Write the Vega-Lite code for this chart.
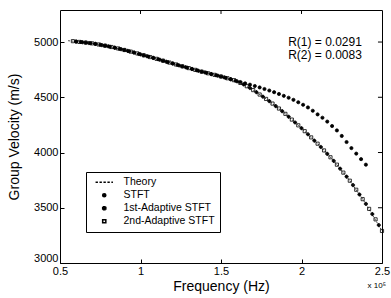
{
  "$schema": "https://vega.github.io/schema/vega-lite/v6.json",
  "width": 322,
  "height": 253,
  "autosize": "none",
  "padding": {"left": 60, "top": 10, "right": 9, "bottom": 35},
  "background": "white",
  "config": {
    "font": "Liberation Sans",
    "view": {"stroke": "black", "strokeWidth": 1},
    "axis": {
      "grid": false,
      "domain": false,
      "tickColor": "black",
      "tickSize": -4,
      "labelColor": "black",
      "labelFont": "Liberation Sans",
      "labelFontSize": 11,
      "labelOverlap": false,
      "titleColor": "black",
      "titleFont": "Liberation Sans",
      "titleFontSize": 14,
      "titleFontWeight": "normal"
    }
  },
  "datasets": {
    "theory": [
      {"f": 0.55, "v": 5012}, {"f": 0.6, "v": 5005}, {"f": 0.7, "v": 4988}, {"f": 0.8, "v": 4961},
      {"f": 0.9, "v": 4928}, {"f": 1.0, "v": 4888}, {"f": 1.1, "v": 4848}, {"f": 1.2, "v": 4806},
      {"f": 1.3, "v": 4764}, {"f": 1.4, "v": 4725}, {"f": 1.5, "v": 4688}, {"f": 1.6, "v": 4645},
      {"f": 1.7, "v": 4565}, {"f": 1.8, "v": 4465}, {"f": 1.9, "v": 4350}, {"f": 2.0, "v": 4220},
      {"f": 2.1, "v": 4080}, {"f": 2.2, "v": 3925}, {"f": 2.3, "v": 3745}, {"f": 2.4, "v": 3535},
      {"f": 2.5, "v": 3290}
    ],
    "est": [
      {"series": "STFT", "f": 0.60, "v": 5005}, {"series": "STFT", "f": 0.63, "v": 5000},
      {"series": "STFT", "f": 0.66, "v": 4995}, {"series": "STFT", "f": 0.69, "v": 4990},
      {"series": "STFT", "f": 0.72, "v": 4983}, {"series": "STFT", "f": 0.75, "v": 4975},
      {"series": "STFT", "f": 0.78, "v": 4967}, {"series": "STFT", "f": 0.81, "v": 4958},
      {"series": "STFT", "f": 0.84, "v": 4948}, {"series": "STFT", "f": 0.87, "v": 4938},
      {"series": "STFT", "f": 0.90, "v": 4928}, {"series": "STFT", "f": 0.93, "v": 4917},
      {"series": "STFT", "f": 0.96, "v": 4905}, {"series": "STFT", "f": 0.99, "v": 4892},
      {"series": "STFT", "f": 1.02, "v": 4880}, {"series": "STFT", "f": 1.05, "v": 4868},
      {"series": "STFT", "f": 1.08, "v": 4856}, {"series": "STFT", "f": 1.11, "v": 4844},
      {"series": "STFT", "f": 1.14, "v": 4831}, {"series": "STFT", "f": 1.17, "v": 4818},
      {"series": "STFT", "f": 1.20, "v": 4806}, {"series": "STFT", "f": 1.23, "v": 4793},
      {"series": "STFT", "f": 1.26, "v": 4780}, {"series": "STFT", "f": 1.29, "v": 4768},
      {"series": "STFT", "f": 1.32, "v": 4756}, {"series": "STFT", "f": 1.35, "v": 4744},
      {"series": "STFT", "f": 1.38, "v": 4732}, {"series": "STFT", "f": 1.41, "v": 4721},
      {"series": "STFT", "f": 1.44, "v": 4710}, {"series": "STFT", "f": 1.47, "v": 4699},
      {"series": "STFT", "f": 1.50, "v": 4688}, {"series": "STFT", "f": 1.53, "v": 4676},
      {"series": "STFT", "f": 1.56, "v": 4663}, {"series": "STFT", "f": 1.59, "v": 4650},
      {"series": "STFT", "f": 1.62, "v": 4638}, {"series": "STFT", "f": 1.65, "v": 4626},
      {"series": "STFT", "f": 1.68, "v": 4614}, {"series": "STFT", "f": 1.71, "v": 4602},
      {"series": "STFT", "f": 1.74, "v": 4589}, {"series": "STFT", "f": 1.77, "v": 4575},
      {"series": "STFT", "f": 1.80, "v": 4561}, {"series": "STFT", "f": 1.83, "v": 4546},
      {"series": "STFT", "f": 1.86, "v": 4530}, {"series": "STFT", "f": 1.89, "v": 4513},
      {"series": "STFT", "f": 1.92, "v": 4496}, {"series": "STFT", "f": 1.95, "v": 4477},
      {"series": "STFT", "f": 1.98, "v": 4455}, {"series": "STFT", "f": 2.01, "v": 4432},
      {"series": "STFT", "f": 2.04, "v": 4408}, {"series": "STFT", "f": 2.07, "v": 4378},
      {"series": "STFT", "f": 2.10, "v": 4345}, {"series": "STFT", "f": 2.13, "v": 4315},
      {"series": "STFT", "f": 2.16, "v": 4280}, {"series": "STFT", "f": 2.19, "v": 4240},
      {"series": "STFT", "f": 2.22, "v": 4200}, {"series": "STFT", "f": 2.25, "v": 4150},
      {"series": "STFT", "f": 2.28, "v": 4095}, {"series": "STFT", "f": 2.31, "v": 4040},
      {"series": "STFT", "f": 2.34, "v": 3990}, {"series": "STFT", "f": 2.37, "v": 3940},
      {"series": "STFT", "f": 2.40, "v": 3890},

      {"series": "1st-Adaptive STFT", "f": 0.60, "v": 5004}, {"series": "1st-Adaptive STFT", "f": 0.64, "v": 4998},
      {"series": "1st-Adaptive STFT", "f": 0.68, "v": 4991}, {"series": "1st-Adaptive STFT", "f": 0.72, "v": 4983},
      {"series": "1st-Adaptive STFT", "f": 0.76, "v": 4972}, {"series": "1st-Adaptive STFT", "f": 0.80, "v": 4961},
      {"series": "1st-Adaptive STFT", "f": 0.84, "v": 4949}, {"series": "1st-Adaptive STFT", "f": 0.88, "v": 4935},
      {"series": "1st-Adaptive STFT", "f": 0.92, "v": 4920}, {"series": "1st-Adaptive STFT", "f": 0.96, "v": 4905},
      {"series": "1st-Adaptive STFT", "f": 1.00, "v": 4888}, {"series": "1st-Adaptive STFT", "f": 1.04, "v": 4872},
      {"series": "1st-Adaptive STFT", "f": 1.08, "v": 4856}, {"series": "1st-Adaptive STFT", "f": 1.12, "v": 4840},
      {"series": "1st-Adaptive STFT", "f": 1.16, "v": 4822}, {"series": "1st-Adaptive STFT", "f": 1.20, "v": 4806},
      {"series": "1st-Adaptive STFT", "f": 1.24, "v": 4788}, {"series": "1st-Adaptive STFT", "f": 1.28, "v": 4772},
      {"series": "1st-Adaptive STFT", "f": 1.32, "v": 4756}, {"series": "1st-Adaptive STFT", "f": 1.36, "v": 4740},
      {"series": "1st-Adaptive STFT", "f": 1.40, "v": 4725}, {"series": "1st-Adaptive STFT", "f": 1.44, "v": 4710},
      {"series": "1st-Adaptive STFT", "f": 1.48, "v": 4696}, {"series": "1st-Adaptive STFT", "f": 1.52, "v": 4680},
      {"series": "1st-Adaptive STFT", "f": 1.56, "v": 4664}, {"series": "1st-Adaptive STFT", "f": 1.60, "v": 4644},
      {"series": "1st-Adaptive STFT", "f": 1.64, "v": 4616}, {"series": "1st-Adaptive STFT", "f": 1.68, "v": 4584},
      {"series": "1st-Adaptive STFT", "f": 1.72, "v": 4546}, {"series": "1st-Adaptive STFT", "f": 1.76, "v": 4506},
      {"series": "1st-Adaptive STFT", "f": 1.80, "v": 4465}, {"series": "1st-Adaptive STFT", "f": 1.84, "v": 4420},
      {"series": "1st-Adaptive STFT", "f": 1.88, "v": 4374}, {"series": "1st-Adaptive STFT", "f": 1.92, "v": 4324},
      {"series": "1st-Adaptive STFT", "f": 1.96, "v": 4272}, {"series": "1st-Adaptive STFT", "f": 2.00, "v": 4220},
      {"series": "1st-Adaptive STFT", "f": 2.04, "v": 4165}, {"series": "1st-Adaptive STFT", "f": 2.08, "v": 4108},
      {"series": "1st-Adaptive STFT", "f": 2.12, "v": 4050}, {"series": "1st-Adaptive STFT", "f": 2.16, "v": 3988},
      {"series": "1st-Adaptive STFT", "f": 2.20, "v": 3924}, {"series": "1st-Adaptive STFT", "f": 2.24, "v": 3854},
      {"series": "1st-Adaptive STFT", "f": 2.28, "v": 3782}, {"series": "1st-Adaptive STFT", "f": 2.32, "v": 3705},
      {"series": "1st-Adaptive STFT", "f": 2.36, "v": 3620}, {"series": "1st-Adaptive STFT", "f": 2.40, "v": 3535},
      {"series": "1st-Adaptive STFT", "f": 2.44, "v": 3443}, {"series": "1st-Adaptive STFT", "f": 2.48, "v": 3343},

      {"series": "2nd-Adaptive STFT", "f": 0.58, "v": 5008}, {"series": "2nd-Adaptive STFT", "f": 0.62, "v": 5001},
      {"series": "2nd-Adaptive STFT", "f": 0.66, "v": 4995}, {"series": "2nd-Adaptive STFT", "f": 0.70, "v": 4988},
      {"series": "2nd-Adaptive STFT", "f": 0.74, "v": 4978}, {"series": "2nd-Adaptive STFT", "f": 0.78, "v": 4967},
      {"series": "2nd-Adaptive STFT", "f": 0.82, "v": 4955}, {"series": "2nd-Adaptive STFT", "f": 0.86, "v": 4942},
      {"series": "2nd-Adaptive STFT", "f": 0.90, "v": 4928}, {"series": "2nd-Adaptive STFT", "f": 0.94, "v": 4913},
      {"series": "2nd-Adaptive STFT", "f": 0.98, "v": 4897}, {"series": "2nd-Adaptive STFT", "f": 1.02, "v": 4880},
      {"series": "2nd-Adaptive STFT", "f": 1.06, "v": 4864}, {"series": "2nd-Adaptive STFT", "f": 1.10, "v": 4848},
      {"series": "2nd-Adaptive STFT", "f": 1.14, "v": 4831}, {"series": "2nd-Adaptive STFT", "f": 1.18, "v": 4814},
      {"series": "2nd-Adaptive STFT", "f": 1.22, "v": 4797}, {"series": "2nd-Adaptive STFT", "f": 1.26, "v": 4780},
      {"series": "2nd-Adaptive STFT", "f": 1.30, "v": 4764}, {"series": "2nd-Adaptive STFT", "f": 1.34, "v": 4748},
      {"series": "2nd-Adaptive STFT", "f": 1.38, "v": 4732}, {"series": "2nd-Adaptive STFT", "f": 1.42, "v": 4717},
      {"series": "2nd-Adaptive STFT", "f": 1.46, "v": 4703}, {"series": "2nd-Adaptive STFT", "f": 1.50, "v": 4688},
      {"series": "2nd-Adaptive STFT", "f": 1.54, "v": 4672}, {"series": "2nd-Adaptive STFT", "f": 1.58, "v": 4655},
      {"series": "2nd-Adaptive STFT", "f": 1.62, "v": 4630}, {"series": "2nd-Adaptive STFT", "f": 1.66, "v": 4600},
      {"series": "2nd-Adaptive STFT", "f": 1.70, "v": 4565}, {"series": "2nd-Adaptive STFT", "f": 1.74, "v": 4525},
      {"series": "2nd-Adaptive STFT", "f": 1.78, "v": 4485}, {"series": "2nd-Adaptive STFT", "f": 1.82, "v": 4443},
      {"series": "2nd-Adaptive STFT", "f": 1.86, "v": 4398}, {"series": "2nd-Adaptive STFT", "f": 1.90, "v": 4350},
      {"series": "2nd-Adaptive STFT", "f": 1.94, "v": 4298}, {"series": "2nd-Adaptive STFT", "f": 1.98, "v": 4246},
      {"series": "2nd-Adaptive STFT", "f": 2.02, "v": 4193}, {"series": "2nd-Adaptive STFT", "f": 2.06, "v": 4137},
      {"series": "2nd-Adaptive STFT", "f": 2.10, "v": 4080}, {"series": "2nd-Adaptive STFT", "f": 2.14, "v": 4019},
      {"series": "2nd-Adaptive STFT", "f": 2.18, "v": 3957}, {"series": "2nd-Adaptive STFT", "f": 2.22, "v": 3890},
      {"series": "2nd-Adaptive STFT", "f": 2.26, "v": 3818}, {"series": "2nd-Adaptive STFT", "f": 2.30, "v": 3745},
      {"series": "2nd-Adaptive STFT", "f": 2.34, "v": 3663}, {"series": "2nd-Adaptive STFT", "f": 2.38, "v": 3578},
      {"series": "2nd-Adaptive STFT", "f": 2.42, "v": 3490}, {"series": "2nd-Adaptive STFT", "f": 2.46, "v": 3395},
      {"series": "2nd-Adaptive STFT", "f": 2.50, "v": 3290}
    ],
    "notes": [
      {"label": "R(1) = 0.0291", "f": 2.375, "v": 4998},
      {"label": "R(2) = 0.0083", "f": 2.375, "v": 4880}
    ],
    "exp": [
      {"label": "x 10⁵", "f": 2.41, "v": 2795}
    ],
    "xticks": [{"f": 1, "v": 5290, "v2": 5254}, {"f": 1.5, "v": 5290, "v2": 5254}, {"f": 2, "v": 5290, "v2": 5254}],
    "yticks": [{"f": 2.5, "f2": 2.475, "v": 3500}, {"f": 2.5, "f2": 2.475, "v": 4000}, {"f": 2.5, "f2": 2.475, "v": 4500}, {"f": 2.5, "f2": 2.475, "v": 5000}]
  },
  "encoding": {
    "x": {"field": "f", "type": "quantitative", "scale": {"domain": [0.5, 2.5], "nice": false},
      "axis": {"orient": "bottom", "values": [0.5, 1, 1.5, 2, 2.5], "labelExpr": "datum.value", "labelPadding": 6, "title": "Frequency (Hz)", "titlePadding": 3, "labelFlush": false}},
    "y": {"field": "v", "type": "quantitative", "scale": {"domain": [3000, 5290], "nice": false, "zero": false},
      "axis": {"orient": "left", "values": [3000, 3500, 4000, 4500, 5000], "format": "d", "labelPadding": 6, "labelFlush": true, "title": "Group Velocity (m/s)", "titlePadding": 12}}
  },
  "layer": [
    {
      "data": {"name": "theory"},
      "mark": {"type": "line", "stroke": "black", "strokeWidth": 0.7, "strokeDash": [2, 1.5]}
    },
    {
      "data": {"name": "est"},
      "mark": {"type": "point", "stroke": "black", "strokeWidth": 0.8, "opacity": 1, "size": 10},
      "encoding": {
        "shape": {"field": "series", "type": "nominal",
          "scale": {"domain": ["Theory", "STFT", "1st-Adaptive STFT", "2nd-Adaptive STFT"],
                    "range": ["M-5.5,0H-4M-3,0H-1.5M-0.5,0H1M2,0H3.5M4.5,0H5.5", "circle", "cross", "square"]},
          "legend": {"orient": "none", "legendX": 26, "legendY": 162, "title": null, "strokeColor": "black", "fillColor": "white", "padding": 5, "labelFontSize": 10.5, "labelFont": "Liberation Sans", "labelColor": "black", "symbolOffset": 8, "labelOffset": 14, "rowPadding": 2, "symbolSize": 10,
            "encode": {"symbols": {"update": {"stroke": {"value": "black"}, "strokeWidth": {"value": 0.8}}}}}},
        "fill": {"field": "series", "type": "nominal",
          "scale": {"domain": ["Theory", "STFT", "1st-Adaptive STFT", "2nd-Adaptive STFT"],
                    "range": ["transparent", "black", "black", "transparent"]},
          "legend": {"orient": "none", "legendX": 26, "legendY": 162, "title": null, "strokeColor": "black", "fillColor": "white", "padding": 5, "labelFontSize": 10.5, "labelFont": "Liberation Sans", "labelColor": "black", "symbolOffset": 8, "labelOffset": 14, "rowPadding": 2, "symbolSize": 10,
            "encode": {"symbols": {"update": {"stroke": {"value": "black"}, "strokeWidth": {"value": 0.8}}}}}}
      }
    },
    {
      "data": {"name": "notes"},
      "mark": {"type": "text", "align": "right", "baseline": "middle", "fontSize": 12, "font": "Liberation Sans", "color": "black"},
      "encoding": {"text": {"field": "label"}}
    },
    {
      "data": {"name": "exp"},
      "mark": {"type": "text", "align": "left", "baseline": "middle", "fontSize": 8, "font": "Liberation Sans", "color": "black"},
      "encoding": {"text": {"field": "label"}}
    },
    {
      "data": {"name": "xticks"},
      "mark": {"type": "rule", "stroke": "black", "strokeWidth": 1},
      "encoding": {"y2": {"field": "v2"}}
    },
    {
      "data": {"name": "yticks"},
      "mark": {"type": "rule", "stroke": "black", "strokeWidth": 1},
      "encoding": {"x2": {"field": "f2"}}
    }
  ]
}
